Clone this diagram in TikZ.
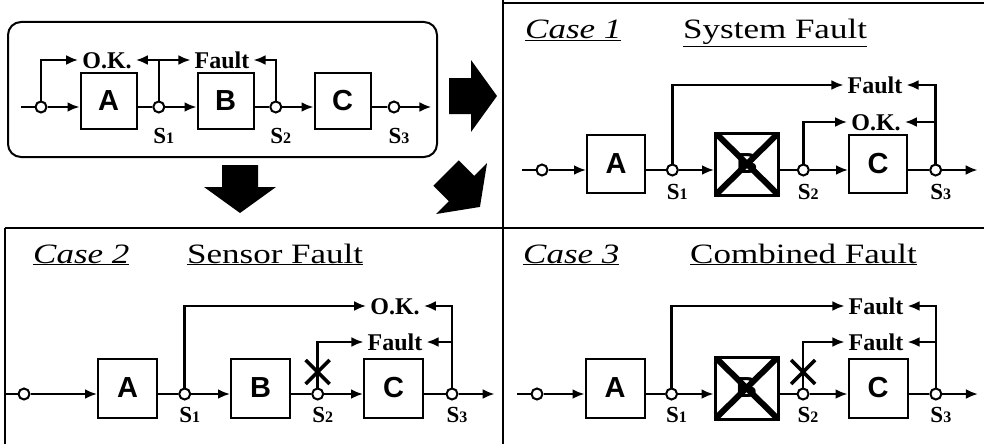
\documentclass[tikz,border=0pt]{standalone}
\usepackage{fontspec}
\setmainfont{Liberation Serif}
\newfontfamily\blockfont{Liberation Sans}
\newfontfamily\titlefont[FakeStretch=1.25]{Liberation Serif}
\usetikzlibrary{calc}
\usetikzlibrary{arrows.meta}

\tikzset{
	block/.style = {draw, line width=2pt, inner sep=0pt, font=\blockfont\bfseries\fontsize{29}{29}\selectfont},
	broken/.style = {line width=3pt, minimum width=63pt, minimum height=62pt,
		path picture={\draw [line width=6pt] (path picture bounding box.north west) -- (path picture bounding box.south east) (path picture bounding box.north east) -- (path picture bounding box.south west);}},
	sensor/.style = {draw, circle, fill=white, line width=2pt, minimum size=11pt, inner sep=0pt},
	link/.style = {line width=2.5pt},
	flow/.style = {line width=2.5pt, -{Latex[length=12pt,width=10pt]}},
	tag/.style = {font=\bfseries\fontsize{24}{24}\selectfont, inner sep=4pt, text height=16pt, text depth=0pt},
	slabel/.style = {font=\bfseries\fontsize{23}{23}\selectfont, inner sep=0pt},
	title/.style = {font=\titlefont\fontsize{28}{28}\selectfont, anchor=base west, inner sep=0pt},
	frame/.style = {line width=2pt},
	cut/.style = {line width=3.5pt},
	pics/bigarrow/.style = {code={\fill (0,-18) -- (22,-18) -- (22,-36) -- (48,0) -- (22,36) -- (22,18) -- (0,18) -- cycle;}}
}

\begin{document}
\begin{tikzpicture}[x=1pt, y=-1pt]
	\useasboundingbox (0,0) rectangle (984,444);

	% sensor label
	\def\sens#1{S{\fontsize{16}{16}\selectfont #1}}

	% chain A - B - C with its four sensors
	% #1 prefix, #2 line, #3 first sensor, #4 block A, #5 gap, #6 block size, #7 style of B, #8 label drop
	\def\chain#1#2#3#4#5#6#7#8{
		\coordinate (#1in) at ({#3-20},#2);
		\node [sensor] (#1s0) at (#3,#2) {};
		\node [block, minimum width=#6pt, minimum height=#6pt] (#1A) at (#4,{#2-6}) {A};
		\node [sensor] (#1s1) at ({#4+0.43*#5},#2) {};
		\node [block, minimum width=#6pt, minimum height=#6pt, #7] (#1B) at ({#4+#5},{#2-6}) {B};
		\node [sensor] (#1s2) at ({#4+1.43*#5},#2) {};
		\node [block, minimum width=#6pt, minimum height=#6pt] (#1C) at ({#4+2*#5},{#2-6}) {C};
		\node [sensor] (#1s3) at ({#4+2.44*#5},#2) {};
		\coordinate (#1out) at ({#4+2.76*#5},#2);
		\draw [link] (#1in) -- (#1s0);
		\draw [flow] (#1s0) -- (#1s0 -| #1A.west);
		\draw [link] (#1s1 -| #1A.east) -- (#1s1);
		\draw [flow] (#1s1) -- (#1s1 -| #1B.west);
		\draw [link] (#1s2 -| #1B.east) -- (#1s2);
		\draw [flow] (#1s2) -- (#1s2 -| #1C.west);
		\draw [link] (#1s3 -| #1C.east) -- (#1s3);
		\draw [flow] (#1s3) -- (#1out);
		\node [slabel] (#1l1) at ($(#1s1)+(5,#8)$) {\sens{1}};
		\node [slabel] (#1l2) at ($(#1s2)+(5,#8)$) {\sens{2}};
		\node [slabel] (#1l3) at ($(#1s3)+(5,#8)$) {\sens{3}};
	}

	% panels
	\draw [frame] (503,0) -- (503,444);
	\draw [frame] (503,3) -- (984,3);
	\draw [frame] (5,228) -- (984,228);
	\draw [frame] (5,228) -- (5,444);

	% normal system
	\draw [frame, rounded corners=13pt] (8,22) rectangle (437,157);
	\chain{top}{107}{41}{108.5}{117}{56}{}{29}
	\node [tag] (topok) at (107,60) {O.K.};
	\node [tag] (topfault) at (222,60) {Fault};
	\draw [flow] (tops0) |- (topok.west);
	\draw [flow] (tops1) |- (topok.east);
	\draw [flow] (tops1) |- (topfault.west);
	\draw [flow] (tops2) |- (topfault.east);

	% big arrows to the cases
	\pic at (449,96) {bigarrow};
	\pic [rotate=-90] at (240,165) {bigarrow};
	\pic [rotate=-45] at (446,173) {bigarrow};

	% case 1
	\node [title] (syscase) at (525,39) {\underline{\textit{Case 1}}};
	\node [title] (sysname) at (683,39) {\underline{System Fault}};
	\chain{sys}{170}{542}{616}{131}{58}{broken}{22}
	\node [tag] (sysfault) at (875,85) {Fault};
	\node [tag] (sysok) at (876,122) {O.K.};
	\draw [flow] (syss1) |- (sysfault.west);
	\draw [flow] (syss3) |- (sysfault.east);
	\draw [flow] (syss2) |- (sysok.west);
	\draw [flow] (syss3) |- (sysok.east);

	% case 2
	\node [title] (sencase) at (33,263) {\underline{\textit{Case 2}}};
	\node [title] (senname) at (187,263) {\underline{Sensor Fault}};
	\chain{sen}{394}{24}{127.5}{133}{59}{}{21}
	\node [tag] (senok) at (395,306) {O.K.};
	\node [tag] (senfault) at (395,342) {Fault};
	\draw [flow] (sens1) |- (senok.west);
	\draw [flow] (sens3) |- (senok.east);
	\draw [flow] (sens2) |- (senfault.west);
	\draw [flow] (sens3) |- (senfault.east);
	\draw [cut] ($(sens2)+(-12,-34)$) -- ($(sens2)+(12,-10)$);
	\draw [cut] ($(sens2)+(12,-34)$) -- ($(sens2)+(-12,-10)$);

	% case 3
	\node [title] (comcase) at (523,263) {\underline{\textit{Case 3}}};
	\node [title] (comname) at (690,263) {\underline{Combined Fault}};
	\chain{com}{394}{537}{615}{131.5}{59}{broken}{21}
	\node [tag] (comfault) at (876,306) {Fault};
	\node [tag] (comfaultb) at (876,342) {Fault};
	\draw [flow] (coms1) |- (comfault.west);
	\draw [flow] (coms3) |- (comfault.east);
	\draw [flow] (coms2) |- (comfaultb.west);
	\draw [flow] (coms3) |- (comfaultb.east);
	\draw [cut] ($(coms2)+(-12,-34)$) -- ($(coms2)+(12,-10)$);
	\draw [cut] ($(coms2)+(12,-34)$) -- ($(coms2)+(-12,-10)$);

\end{tikzpicture}
\end{document}
